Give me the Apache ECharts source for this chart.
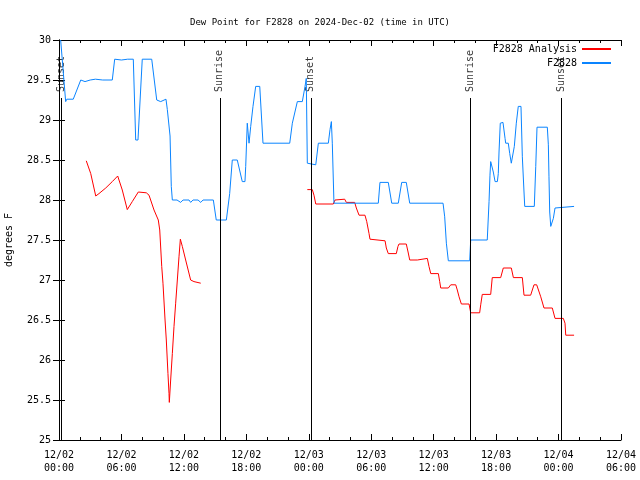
<!DOCTYPE html>
<html>
<head>
<meta charset="utf-8">
<script src="https://cdn.jsdelivr.net/npm/echarts@6/dist/echarts.min.js"></script>
<style>html,body{margin:0;padding:0;background:#fff}#c{width:640px;height:480px}</style>
</head>
<body>
<div id="c"></div>
<script>
// hours since 2024-12-02 00:00 UTC
var obsTimes = [0.16,0.64,0.75,1.37,2.09,2.5,3.0,3.5,4.2,5.12,5.35,6.0,6.6,7.14,7.37,7.59,8.0,8.91,9.39,9.77,10.28,10.41,10.67,10.79,10.89,11.34,11.69,11.92,12.49,12.65,12.88,13.36,13.62,13.84,14.83,15.11,16.08,16.4,16.65,17.13,17.61,17.87,17.94,18.09,18.26,18.42,18.64,18.9,19.29,19.6,22.17,22.42,22.9,23.38,23.64,23.76,23.86,24.67,24.92,25.88,26.04,26.17,26.26,26.42,30.68,30.84,31.64,31.97,32.6,32.93,33.37,33.7,36.9,37.06,37.22,37.41,39.46,39.56,41.15,41.32,41.41,41.48,41.63,41.73,41.9,42.12,42.21,42.28,42.4,42.66,42.86,42.92,43.17,43.31,43.46,43.62,43.75,43.94,44.13,44.39,44.52,44.68,44.75,45.67,45.81,45.93,46.92,47.02,47.08,47.15,47.25,47.4,47.5,47.66,47.73,49.49];
var obsValues = [30.0,29.23,29.26,29.26,29.5,29.48,29.5,29.51,29.5,29.5,29.76,29.75,29.76,29.76,28.75,28.75,29.76,29.76,29.25,29.23,29.26,29.13,28.8,28.17,28.0,28.0,27.97,28.0,28.0,27.97,28.0,28.0,27.97,28.0,28.0,27.75,27.75,28.08,28.5,28.5,28.23,28.23,28.42,28.96,28.71,28.92,29.17,29.42,29.42,28.71,28.71,28.96,29.23,29.23,29.42,29.52,28.46,28.44,28.71,28.71,28.88,28.98,28.71,27.96,27.96,28.22,28.22,27.96,27.96,28.22,28.22,27.96,27.96,27.79,27.46,27.24,27.24,27.5,27.5,27.98,28.31,28.48,28.48,28.35,28.23,28.23,28.33,28.6,28.96,28.97,28.77,28.71,28.71,28.58,28.46,28.46,28.67,28.96,29.17,29.17,28.54,28.1,27.92,27.92,28.42,28.91,28.91,28.69,28.29,27.85,27.67,27.67,27.77,27.9,27.92,27.92];

var anaTimes = [2.62,3.05,3.53,3.84,4.49,5.12,5.64,6.08,6.56,7.04,7.62,8.39,8.65,9.13,9.54,9.68,9.87,9.99,10.19,10.31,10.47,10.57,10.6,10.73,10.89,11.05,11.21,11.37,11.53,11.66,11.85,12.17,12.65,12.97,13.62,
  18.0,
  23.86,24.34,24.5,24.67,26.36,26.52,26.65,27.45,27.61,28.41,28.57,28.83,29.4,29.57,29.79,29.88,31.33,31.45,31.64,32.41,32.57,32.67,33.37,33.54,33.7,34.43,34.59,35.39,35.55,35.72,36.45,36.58,36.68,37.41,37.64,38.12,38.27,38.44,38.66,39.4,39.56,40.42,40.52,40.67,41.48,41.63,42.44,42.69,43.46,43.66,44.52,44.68,45.32,45.64,45.9,46.29,46.6,47.4,47.66,48.46,48.62,48.69,49.49];
var anaValues = [28.49,28.33,28.05,28.08,28.15,28.23,28.30,28.125,27.88,27.98,28.1,28.09,28.06,27.875,27.75,27.625,27.17,26.96,26.5,26.25,25.83,25.58,25.47,25.75,26.08,26.42,26.71,27.0,27.29,27.51,27.42,27.25,27.0,26.98,26.96,
  null,
  28.13,28.13,28.06,27.95,27.95,28.0,28.01,28.01,27.97,27.97,27.9,27.81,27.81,27.73,27.58,27.51,27.49,27.4,27.33,27.33,27.42,27.45,27.45,27.35,27.25,27.25,27.27,27.27,27.17,27.08,27.08,26.98,26.9,26.9,26.94,26.94,26.875,26.79,26.7,26.7,26.59,26.59,26.69,26.82,26.82,27.03,27.03,27.15,27.15,27.03,27.03,26.81,26.81,26.94,26.94,26.79,26.65,26.65,26.52,26.52,26.46,26.31,26.31];

var eventTimes = [0.26, 15.45, 24.19, 39.56, 48.26];
var eventNames = ['Sunset', 'Sunrise', 'Sunset', 'Sunrise', 'Sunset'];

var seriesNames = ['F2828 Analysis', 'F2828'];
var titleText = 'Dew Point for F2828 on 2024-Dec-02 (time in UTC)';
var yName = 'degrees F';

var FONT = 'DejaVu Sans Mono';
function pad(n){ return (n < 10 ? '0' : '') + n; }
function fmtX(h){
  var day = 2 + Math.floor(h / 24);
  var hh = Math.round(h - Math.floor(h / 24) * 24);
  return '12/' + pad(day) + '\n' + pad(hh) + ':00';
}
function pairs(t, v){ return t.map(function(x, i){ return [x, v[i] === null ? '-' : v[i]]; }); }

var chart = echarts.init(document.getElementById('c'), null, {renderer: 'canvas'});
var axisCommon = {
  axisLine: {show: true, lineStyle: {color: '#000', width: 1}},
  splitLine: {show: false}
};
var legendText = {fontFamily: FONT, fontSize: 10, color: '#000'};
chart.setOption({
  animation: false,
  backgroundColor: '#fff',
  title: {text: titleText, left: 'center', top: 13, textStyle: {fontFamily: FONT, fontSize: 9, fontWeight: 'normal', color: '#000'}},
  legend: [
    {data: [seriesNames[0]], right: 29, top: 44, align: 'right', orient: 'vertical', itemWidth: 29, itemHeight: 2, icon: 'rect', textStyle: legendText, itemGap: 0, padding: 0},
    {data: [seriesNames[1]], right: 29, top: 58, align: 'right', orient: 'vertical', itemWidth: 29, itemHeight: 2, icon: 'rect', textStyle: legendText, itemGap: 0, padding: 0}
  ],
  grid: {left: 59, right: 19, top: 40, bottom: 40, containLabel: false, outerBoundsMode: 'none'},
  xAxis: [
    Object.assign({type: 'value', min: 0, max: 54, interval: 6, position: 'bottom',
      axisTick: {show: true, inside: true, length: 6, lineStyle: {color: '#000'}},
      minorTick: {show: true, splitNumber: 3, length: 3, lineStyle: {color: '#000'}},
      axisLabel: {formatter: fmtX, fontFamily: FONT, fontSize: 10, color: '#000', margin: 9, lineHeight: 13}
    }, axisCommon),
    Object.assign({type: 'value', min: 0, max: 54, interval: 6, position: 'top',
      axisTick: {show: true, inside: true, length: 6, lineStyle: {color: '#000'}},
      minorTick: {show: true, splitNumber: 3, length: 3, lineStyle: {color: '#000'}},
      axisLabel: {show: false}
    }, axisCommon)
  ],
  yAxis: [
    Object.assign({type: 'value', min: 25, max: 30, interval: 0.5, position: 'left',
      name: yName, nameLocation: 'middle', nameGap: 45,
      nameTextStyle: {fontFamily: FONT, fontSize: 10, color: '#000'},
      axisTick: {show: true, inside: true, length: 6, lineStyle: {color: '#000'}},
      axisLabel: {fontFamily: FONT, fontSize: 10, color: '#000', margin: 8}
    }, axisCommon),
    Object.assign({type: 'value', min: 25, max: 30, interval: 0.5, position: 'right',
      axisTick: {show: true, inside: true, length: 6, lineStyle: {color: '#000'}},
      axisLabel: {show: false}
    }, axisCommon)
  ],
  series: [
    {
      name: seriesNames[0], type: 'line', data: pairs(anaTimes, anaValues),
      showSymbol: false, symbol: 'none', connectNulls: false,
      lineStyle: {color: '#ff0000', width: 1}, itemStyle: {color: '#ff0000'},
      markLine: {
        silent: true, symbol: 'none', animation: false,
        lineStyle: {color: '#000', width: 1, type: 'solid'},
        label: {show: false},
        data: eventTimes.map(function(t){ return [{coord: [t, 29.275]}, {coord: [t, 25]}]; })
      }
    },
    {
      name: seriesNames[1], type: 'line', data: pairs(obsTimes, obsValues),
      showSymbol: false, symbol: 'none',
      lineStyle: {color: '#0a84ff', width: 1}, itemStyle: {color: '#0a84ff'}
    },
    {
      name: 'events', type: 'scatter', symbolSize: 0, silent: true,
      data: eventTimes.map(function(t, i){ return {value: [t, 29.35], name: eventNames[i]}; }),
      label: {show: true, position: 'inside', formatter: '{b}', rotate: 90, align: 'left', verticalAlign: 'middle',
        fontFamily: FONT, fontSize: 10, color: '#000'}
    }
  ]
});
</script>
</body>
</html>
